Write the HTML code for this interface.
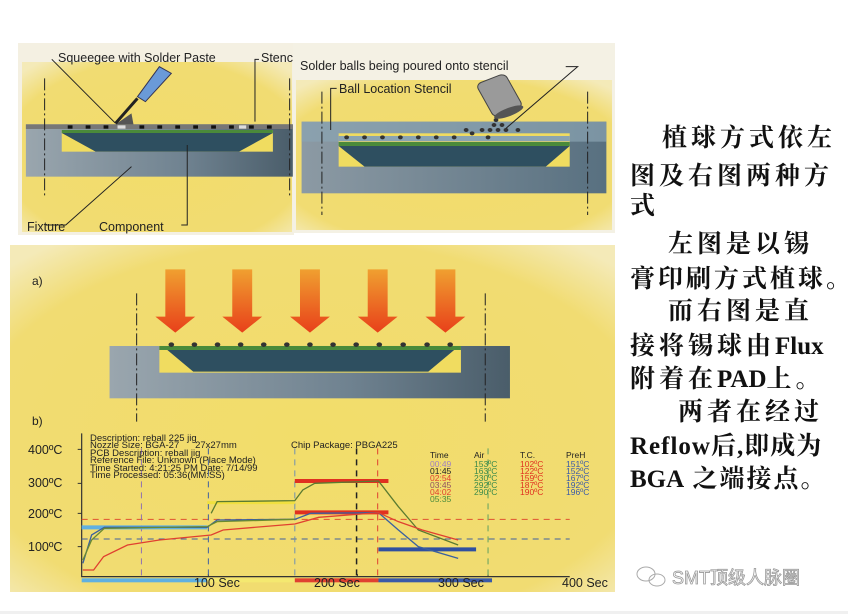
<!DOCTYPE html>
<html><head><meta charset="utf-8">
<style>
html,body{margin:0;padding:0;background:#fff;}
body{width:848px;height:614px;overflow:hidden;position:relative;}
svg{position:absolute;left:0;top:0;}
.cn{position:absolute;font-family:"Liberation Serif","Noto Serif CJK SC",serif;font-weight:bold;font-size:25px;letter-spacing:4px;color:#111;white-space:nowrap;line-height:30px;}
.cn span{letter-spacing:0;}
</style></head><body>
<svg width="848" height="614" viewBox="0 0 848 614" xmlns="http://www.w3.org/2000/svg">
<defs>
<linearGradient id="arr" x1="0" y1="0" x2="0" y2="1"><stop offset="0" stop-color="#f0a030"/><stop offset="1" stop-color="#e8401a"/></linearGradient>
<linearGradient id="fix" x1="0" y1="0" x2="1" y2="0"><stop offset="0" stop-color="#9aa6ae"/><stop offset="0.6" stop-color="#6f8290"/><stop offset="1" stop-color="#4a5d6a"/></linearGradient>
<linearGradient id="fix2" x1="0" y1="0" x2="1" y2="0"><stop offset="0" stop-color="#8c9aa4"/><stop offset="1" stop-color="#587080"/></linearGradient>
<radialGradient id="ylw" cx="0.5" cy="0.55" r="0.7"><stop offset="0" stop-color="#f2dd6a"/><stop offset="0.8" stop-color="#f1dc72"/><stop offset="1" stop-color="#f4eab8"/></radialGradient>
</defs>
<rect x="18" y="43" width="276" height="192" fill="#f4f0e2"/>
<rect x="22" y="62" width="270" height="170" fill="url(#ylw)"/>
<rect x="293" y="43" width="322" height="190" fill="#f4f1e4"/>
<rect x="296" y="80" width="316" height="150" fill="url(#ylw)"/>
<rect x="10" y="245" width="605" height="347" fill="url(#ylw)"/>

<g transform="translate(0,30) scale(0.3984,0.3333)">
<rect x="65" y="283" width="670" height="157" fill="url(#fix)"/>
<rect x="65" y="283" width="670" height="14" fill="#777"/>
<g fill="#111"><rect x="170" y="286" width="12" height="10"/><rect x="215" y="286" width="12" height="10"/><rect x="260" y="286" width="12" height="10"/><rect x="350" y="286" width="12" height="10"/><rect x="395" y="286" width="12" height="10"/><rect x="440" y="286" width="12" height="10"/><rect x="485" y="286" width="12" height="10"/><rect x="530" y="286" width="12" height="10"/><rect x="575" y="286" width="12" height="10"/><rect x="625" y="286" width="12" height="10"/><rect x="670" y="286" width="12" height="10"/></g>
<g fill="#ddd"><rect x="295" y="286" width="20" height="10"/><rect x="600" y="286" width="18" height="10"/></g>
<rect x="155" y="300" width="530" height="65" fill="#f0dc60"/>
<rect x="155" y="300" width="530" height="9" fill="#4a8a3a"/>
<polygon points="155,309 685,309 600,365 240,365" fill="#2e4f60"/>
<polygon points="290,283 330,250 335,283" fill="#555"/>
<line x1="290" y1="280" x2="345" y2="205" stroke="#222" stroke-width="3" vector-effect="non-scaling-stroke"/>
<polygon points="345,200 400,110 430,130 365,215" fill="#6a9ad8" stroke="#335" stroke-width="1" vector-effect="non-scaling-stroke"/>
<g stroke="#222" fill="none" stroke-width="1">
<path d="M130,88 L290,280" vector-effect="non-scaling-stroke"/>
<path d="M650,88 L640,88 L640,275" vector-effect="non-scaling-stroke"/>
<path d="M115,585 L165,585 L330,410" vector-effect="non-scaling-stroke"/>
<path d="M455,585 L470,585 L470,345" vector-effect="non-scaling-stroke"/>
<path d="M112,145 L112,500" stroke-dasharray="12 3 2 3" vector-effect="non-scaling-stroke"/>
<path d="M727,145 L727,500" stroke-dasharray="12 3 2 3" vector-effect="non-scaling-stroke"/>
</g>
</g>
<g font-family="Liberation Sans, sans-serif" font-size="12.5" fill="#222">
<text x="58" y="62">Squeegee with Solder Paste</text>
<text x="261" y="62">Stenc</text>
<text x="27" y="231">Fixture</text>
<text x="99" y="231">Component</text>
<text x="300" y="70">Solder balls being poured onto stencil</text>
<text x="339" y="93">Ball Location Stencil</text>
</g>

<g transform="translate(0,30) scale(0.3984,0.3333)">
<rect x="757" y="275" width="765" height="215" fill="url(#fix2)"/>
<rect x="757" y="275" width="765" height="60" fill="#8aa4b2" opacity="0.7"/>
<rect x="850" y="310" width="580" height="100" fill="#f0dc60"/>
<rect x="850" y="318" width="580" height="16" fill="#8aa4b2"/>
<rect x="850" y="336" width="580" height="12" fill="#4a8a3a"/>
<polygon points="850,348 1430,348 1370,410 915,410" fill="#2e4f60"/>
<g fill="#333"><circle cx="870" cy="322" r="6"/><circle cx="915" cy="322" r="6"/><circle cx="960" cy="322" r="6"/><circle cx="1005" cy="322" r="6"/><circle cx="1050" cy="322" r="6"/><circle cx="1095" cy="322" r="6"/><circle cx="1140" cy="322" r="6"/><circle cx="1185" cy="310" r="6"/><circle cx="1210" cy="300" r="6"/><circle cx="1230" cy="300" r="6"/><circle cx="1250" cy="300" r="6"/><circle cx="1270" cy="300" r="6"/><circle cx="1240" cy="285" r="6"/><circle cx="1260" cy="285" r="6"/><circle cx="1245" cy="270" r="6"/><circle cx="1170" cy="300" r="6"/><circle cx="1300" cy="300" r="6"/><circle cx="1225" cy="322" r="6"/></g>
<g transform="rotate(-25 1260 210)"><rect x="1220" y="140" width="80" height="110" rx="15" fill="#9a9a9a" stroke="#444" stroke-width="1" vector-effect="non-scaling-stroke"/><ellipse cx="1260" cy="250" rx="40" ry="12" fill="#555"/></g>
<g stroke="#222" fill="none">
<path d="M1420,110 L1450,110 L1270,295" vector-effect="non-scaling-stroke"/>
<path d="M845,175 L830,175 L830,300" vector-effect="non-scaling-stroke"/>
<path d="M808,185 L808,555" stroke-dasharray="12 3 2 3" vector-effect="non-scaling-stroke"/>
<path d="M1475,185 L1475,555" stroke-dasharray="12 3 2 3" vector-effect="non-scaling-stroke"/>
</g>
</g>

<g transform="translate(0,240) scale(0.3984,0.3333)">
<g fill="url(#arr)">
<polygon points="415,88 465,88 465,230 490,230 440,278 390,230 415,230"/>
<polygon points="583,88 633,88 633,230 658,230 608,278 558,230 583,230"/>
<polygon points="753,88 803,88 803,230 828,230 778,278 728,230 753,230"/>
<polygon points="923,88 973,88 973,230 998,230 948,278 898,230 923,230"/>
<polygon points="1093,88 1143,88 1143,230 1168,230 1118,278 1068,230 1093,230"/>
</g>
<rect x="275" y="318" width="1005" height="157" fill="url(#fix)"/>
<rect x="400" y="318" width="757" height="80" fill="#f0dc60"/>
<rect x="400" y="318" width="757" height="12" fill="#4a8a3a"/>
<polygon points="420,330 1140,330 1075,395 485,395" fill="#2e4f60"/>
<g fill="#333"><circle cx="430" cy="314" r="7"/><circle cx="488" cy="314" r="7"/><circle cx="546" cy="314" r="7"/><circle cx="604" cy="314" r="7"/><circle cx="662" cy="314" r="7"/><circle cx="720" cy="314" r="7"/><circle cx="778" cy="314" r="7"/><circle cx="836" cy="314" r="7"/><circle cx="894" cy="314" r="7"/><circle cx="952" cy="314" r="7"/><circle cx="1012" cy="314" r="7"/><circle cx="1072" cy="314" r="7"/><circle cx="1130" cy="314" r="7"/></g>
<g stroke="#222" fill="none">
<path d="M343,160 L343,545" stroke-dasharray="12 3 2 3" vector-effect="non-scaling-stroke"/>
<path d="M1218,160 L1218,545" stroke-dasharray="12 3 2 3" vector-effect="non-scaling-stroke"/>
</g>
</g>
<g font-family="Liberation Sans, sans-serif" font-size="12" fill="#222">
<text x="32" y="285">a)</text>
<text x="32" y="425">b)</text>
</g>

<g transform="translate(0,420) scale(0.3984,0.3333)" fill="none">
<path d="M205,40 L205,470 L1430,470" stroke="#333" stroke-width="1.2" vector-effect="non-scaling-stroke"/>
<path d="M195,88 H205 M195,190 H205 M195,280 H205 M195,380 H205 M523,462 V470 M897,462 V470 M1225,462 V470" stroke="#333" vector-effect="non-scaling-stroke"/>
<g stroke-dasharray="6 5">
<path d="M205,298 H1430" stroke="#e05030" vector-effect="non-scaling-stroke"/>
<path d="M205,357 H1430" stroke="#4060a0" vector-effect="non-scaling-stroke"/>
<path d="M355,85 V470" stroke="#9070b0" vector-effect="non-scaling-stroke"/>
<path d="M523,85 V470" stroke="#4060a0" vector-effect="non-scaling-stroke"/>
<path d="M740,85 V470" stroke="#7090b0" vector-effect="non-scaling-stroke"/>
<path d="M895,85 V470" stroke="#222" stroke-width="1.5" vector-effect="non-scaling-stroke"/>
<path d="M948,85 V470" stroke="#e04030" vector-effect="non-scaling-stroke"/>
<path d="M1225,85 V470" stroke="#60a060" vector-effect="non-scaling-stroke"/>
</g>
<path d="M205,322 H520" stroke="#60b0e0" stroke-width="4" vector-effect="non-scaling-stroke"/>
<path d="M740,183 H975 M740,277 H975" stroke="#e03020" stroke-width="4" vector-effect="non-scaling-stroke"/>
<path d="M950,388 H1195" stroke="#3050a0" stroke-width="4" vector-effect="non-scaling-stroke"/>
<path d="M520,248 H740" stroke="#f0e040" stroke-width="3" vector-effect="non-scaling-stroke"/>
<path d="M208,430 L230,345 L262,322 L520,322 L545,300 L740,298 L780,280 L950,278 L1000,330 L1050,380 L1150,415" stroke="#3a60a0" stroke-width="1.3" vector-effect="non-scaling-stroke"/>
<path d="M208,420 L230,360 L262,325 L520,320 L545,305 L740,298" stroke="#6a8a30" stroke-width="1.3" vector-effect="non-scaling-stroke"/>
<path d="M530,280 L545,245 L740,242 L760,210 L790,190 L950,183 L1000,260 L1050,330 L1150,375" stroke="#5a7a30" stroke-width="1.3" vector-effect="non-scaling-stroke"/>
<path d="M208,450 L235,450 L260,410 L320,375 L400,360 L530,345 L560,330 L740,312 L800,292 L950,278 L1000,305 L1060,330 L1150,360" stroke="#e04030" stroke-width="1.3" vector-effect="non-scaling-stroke"/>
<rect x="205" y="475" width="315" height="12" fill="#60b0e0"/>
<rect x="520" y="475" width="220" height="12" fill="#f4e870"/>
<rect x="740" y="475" width="210" height="12" fill="#e04030"/>
<rect x="950" y="475" width="285" height="12" fill="#3a5aa8"/>
</g>
<g font-family="Liberation Sans, sans-serif" fill="#222">
<g font-size="12.5"><text x="28" y="454">400ºC</text><text x="28" y="487">300ºC</text><text x="28" y="518">200ºC</text><text x="28" y="551">100ºC</text>
<text x="194" y="587">100 Sec</text><text x="314" y="587">200 Sec</text><text x="438" y="587">300 Sec</text><text x="562" y="587">400 Sec</text></g>
<g font-size="9.5"><text x="90" y="441">Description: reball 225 jig</text>
<text x="90" y="448">Nozzle Size: BGA-27&#160;&#160;&#160;&#160;&#160;&#160;27x27mm</text>
<text x="90" y="456">PCB Description: reball jig</text>
<text x="90" y="463">Reference File: Unknown (Place Mode)</text>
<text x="90" y="471">Time Started: 4:21:25 PM Date: 7/14/99</text>
<text x="90" y="478">Time Processed: 05:36(MM:SS)</text>
<text x="291" y="448">Chip Package: PBGA225</text></g>
<g font-size="8.5"><text x="430" y="458">Time</text><text x="474" y="458">Air</text><text x="520" y="458">T.C.</text><text x="566" y="458">PreH</text>
<text x="430" y="467" fill="#a080c0">00:49</text><text x="430" y="474">01:45</text><text x="430" y="481" fill="#e04030">02:54</text><text x="430" y="488" fill="#905060">03:45</text><text x="430" y="495" fill="#e04030">04:02</text><text x="430" y="502" fill="#4a8a3a">05:35</text>
<g fill="#3a8a4a"><text x="474" y="467">153ºC</text><text x="474" y="474">163ºC</text><text x="474" y="481">230ºC</text><text x="474" y="488">292ºC</text><text x="474" y="495">290ºC</text></g>
<g fill="#e03020"><text x="520" y="467">102ºC</text><text x="520" y="474">122ºC</text><text x="520" y="481">159ºC</text><text x="520" y="488">187ºC</text><text x="520" y="495">190ºC</text></g>
<g fill="#3a5aa8"><text x="566" y="467">151ºC</text><text x="566" y="474">152ºC</text><text x="566" y="481">167ºC</text><text x="566" y="488">192ºC</text><text x="566" y="495">196ºC</text></g>
</g>
</g>
<rect x="0" y="611" width="848" height="3" fill="#f0f0f0"/>
<g fill="none" stroke="#aaa"><ellipse cx="646" cy="574" rx="9" ry="7"/><ellipse cx="657" cy="580" rx="8" ry="6"/></g>
<text x="672" y="584" font-family="Liberation Sans, 'Noto Sans CJK SC', sans-serif" font-size="18" fill="#fff" stroke="#999" stroke-width="0.8">SMT顶级人脉圈</text>
</svg>
<div class="cn" style="left:662px;top:124px;">植球方式依左</div>
<div class="cn" style="left:630px;top:162px;">图及右图两种方</div>
<div class="cn" style="left:630px;top:192px;">式</div>
<div class="cn" style="left:668px;top:230px;">左图是以锡</div>
<div class="cn" style="left:630px;top:265px;letter-spacing:3px;">膏印刷方式植球。</div>
<div class="cn" style="left:668px;top:297px;">而右图是直</div>
<div class="cn" style="left:630px;top:332px;">接将锡球由<span>Flux</span></div>
<div class="cn" style="left:630px;top:365px;">附着在<span>PAD</span>上。</div>
<div class="cn" style="left:678px;top:398px;">两者在经过</div>
<div class="cn" style="left:630px;top:432px;letter-spacing:1px;">Reflow后,即成为</div>
<div class="cn" style="left:630px;top:465px;letter-spacing:2px;"><span>BGA</span> 之端接点。</div>
</body></html>
